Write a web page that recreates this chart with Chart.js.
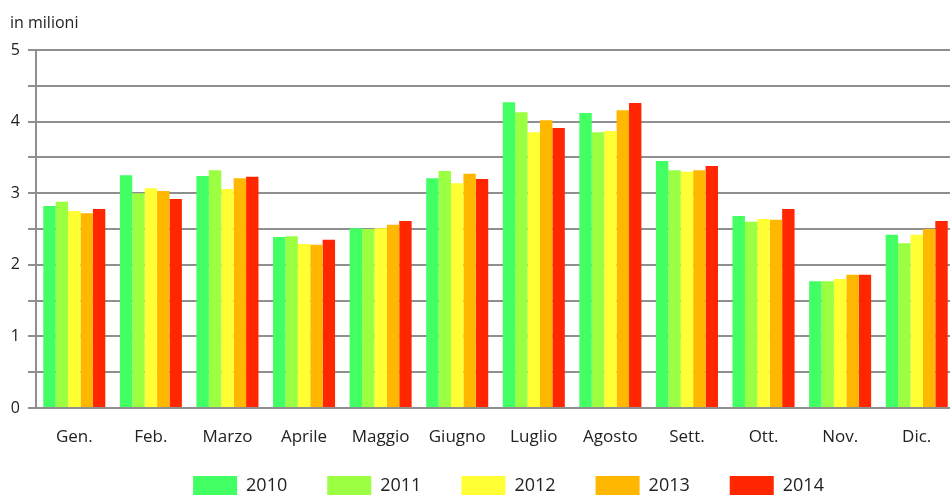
<!DOCTYPE html>
<html>
<head>
<meta charset="utf-8">
<script src="https://cdn.jsdelivr.net/npm/chart.js@4"></script>
<style>
  html, body { margin: 0; padding: 0; background: #fff; overflow: hidden; }
  #wrap { width: 955px; height: 495px; }
</style>
</head>
<body>
<div id="wrap"><canvas id="myChart" width="955" height="495"></canvas></div>
<script>
var mesi = ["Gen.", "Feb.", "Marzo", "Aprile", "Maggio", "Giugno", "Luglio", "Agosto", "Sett.", "Ott.", "Nov.", "Dic."];
var anni = ["2010", "2011", "2012", "2013", "2014"];
var colori = ["#42ff64", "#9bff42", "#ffff33", "#ffb700", "#ff2600"];

// valori in milioni
var v2010 = [2.82, 3.25, 3.24, 2.39, 2.51, 3.21, 4.27, 4.12, 3.45, 2.68, 1.77, 2.42];
var v2011 = [2.88, 3.00, 3.32, 2.40, 2.50, 3.31, 4.13, 3.85, 3.32, 2.60, 1.77, 2.30];
var v2012 = [2.75, 3.07, 3.06, 2.29, 2.51, 3.14, 3.85, 3.87, 3.30, 2.64, 1.80, 2.42];
var v2013 = [2.72, 3.03, 3.21, 2.28, 2.56, 3.27, 4.02, 4.16, 3.32, 2.63, 1.86, 2.50];
var v2014 = [2.78, 2.92, 3.23, 2.35, 2.61, 3.20, 3.91, 4.26, 3.38, 2.78, 1.86, 2.61];
var serie = [v2010, v2011, v2012, v2013, v2014];

var font = "'Open Sans', 'DejaVu Sans', sans-serif";
var grigio = "#8f8f8f";
var padLegenda = 40;

var datasets = [];
for (var i = 0; i < anni.length; i++) {
    datasets.push({
        label: anni[i],
        data: serie[i],
        backgroundColor: colori[i],
        borderWidth: 0,
        barPercentage: 1,
        categoryPercentage: 0.81
    });
}

// scritta "in milioni" sopra l'asse
var etichettaUnita = {
    id: "etichettaUnita",
    afterDraw: function (chart) {
        var ctx = chart.ctx;
        ctx.save();
        ctx.font = "16px " + font;
        ctx.fillStyle = "#222";
        ctx.textBaseline = "alphabetic";
        ctx.fillText("in milioni", 10, 28);
        ctx.restore();
    }
};

// la legenda occupa poco spazio in altezza, poi la rimetto in fondo
var posLegenda = {
    id: "posLegenda",
    afterInit: function (chart) {
        var l = chart.legend;
        var fit0 = l.fit;
        l.fit = function () {
            fit0.call(this);
            this.height = 10;
        };
    },
    afterLayout: function (chart) {
        var l = chart.legend;
        l.left += 31;
        l.right += 31;
        l.top = 476 - padLegenda;
        l.bottom = l.top + 60;
    }
};

var ctx = document.getElementById("myChart").getContext("2d");
var chart = new Chart(ctx, {
    type: "bar",
    data: { labels: mesi, datasets: datasets },
    plugins: [etichettaUnita, posLegenda],
    options: {
        responsive: false,
        animation: false,
        layout: { padding: { top: 50, left: 0, right: 0, bottom: 0 } },
        plugins: {
            tooltip: { enabled: false },
            legend: {
                position: "bottom",
                labels: {
                    boxWidth: 44,
                    boxHeight: 19,
                    padding: padLegenda,
                    color: "#222",
                    font: { family: font, size: 18 }
                }
            }
        },
        scales: {
            x: {
                grid: { display: false, drawTicks: false },
                border: { color: grigio, width: 2 },
                ticks: { padding: 19, color: "#222", font: { family: font, size: 17 } },
                afterFit: function (scale) { scale.height = 77; }
            },
            y: {
                min: 0,
                max: 5,
                grid: { color: grigio, lineWidth: 2, tickLength: 8 },
                border: { color: grigio, width: 2 },
                ticks: {
                    stepSize: 0.5,
                    padding: 8,
                    color: "#222",
                    font: { family: font, size: 16 },
                    callback: function (v) { return v % 1 === 0 ? v : ""; }
                },
                afterFit: function (scale) { scale.width = 36; }
            }
        }
    }
});
</script>
</body>
</html>
